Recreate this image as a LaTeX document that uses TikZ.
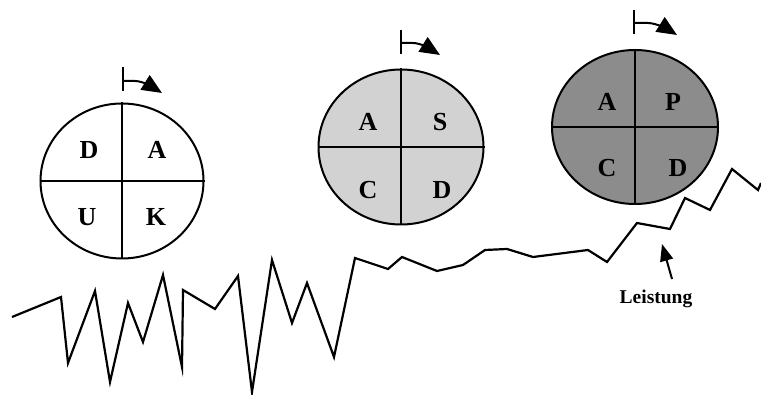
\documentclass[tikz,border=0pt]{standalone}
\usepackage{fontspec}
\setmainfont{Liberation Serif}
\usetikzlibrary{arrows.meta,shapes.geometric}
\tikzset{
  pdca/.style={ellipse, draw, line width=2pt, inner sep=0pt},
  divider/.style={line width=1.4pt},
  letter/.style={font=\bfseries\fontsize{26}{26}\selectfont, inner sep=0pt},
  markbar/.style={line width=2.4pt},
  markarrow/.style={line width=2pt, -{Triangle[length=20pt,width=17pt]}},
  zigzag/.style={line width=2.2pt, line join=miter},
  pointer/.style={line width=2pt, -{Triangle[length=17pt,width=13pt]}},
  labeltext/.style={font=\bfseries\fontsize{19.5}{19.5}\selectfont, inner sep=0pt}
}
\begin{document}
\begin{tikzpicture}[x=1pt,y=-1pt]
\useasboundingbox (0,0) rectangle (761,395);
% circle 1
\node[pdca, fill=white, minimum width=163pt, minimum height=155pt] (c1) at (122,181) {};
\draw[divider] (c1.north) -- (c1.south);
\draw[divider] (c1.west) -- (c1.east);
\node[letter] (c1d) at (89,150) {D};
\node[letter] (c1a) at (157,150) {A};
\node[letter] (c1u) at (87,217) {U};
\node[letter] (c1k) at (156,217) {K};
% circle 2
\node[pdca, fill=gray!35, minimum width=165pt, minimum height=155pt] (c2) at (401,147) {};
\draw[divider] (c2.north) -- (c2.south);
\draw[divider] (c2.west) -- (c2.east);
\node[letter] (c2a) at (368,122) {A};
\node[letter] (c2s) at (440,122) {S};
\node[letter] (c2c) at (368,190) {C};
\node[letter] (c2d) at (442,190) {D};
% circle 3
\node[pdca, fill=black!45, minimum width=166pt, minimum height=154pt] (c3) at (635,127) {};
\draw[divider] (c3.north) -- (c3.south);
\draw[divider] (c3.west) -- (c3.east);
\node[letter] (c3a) at (607,102) {A};
\node[letter] (c3p) at (673,102) {P};
\node[letter] (c3c) at (607,168) {C};
\node[letter] (c3d) at (678,168) {D};
% start marks
\coordinate (m1t) at (123,67); \coordinate (m1b) at (123,91);
\coordinate (m1s) at (123,81); \coordinate (m1e) at (162,93);
\draw[markbar] (m1t) -- (m1b);
\draw[markarrow] (m1s) -- ++(12,0) .. controls +(8,0) and +(-8,-5) .. (m1e);
\coordinate (m2t) at (401,30); \coordinate (m2b) at (401,54);
\coordinate (m2s) at (401,43); \coordinate (m2e) at (440,55);
\draw[markbar] (m2t) -- (m2b);
\draw[markarrow] (m2s) -- ++(12,0) .. controls +(8,0) and +(-8,-5) .. (m2e);
\coordinate (m3t) at (634,10); \coordinate (m3b) at (634,34);
\coordinate (m3s) at (634,23); \coordinate (m3e) at (677,35);
\draw[markbar] (m3t) -- (m3b);
\draw[markarrow] (m3s) -- ++(14,0) .. controls +(8,0) and +(-8,-5) .. (m3e);
% performance line
\draw[zigzag] (12,317) -- (61,297) -- (68,363) -- (95,291) -- (110,382) -- (128,303)
  -- (143,342) -- (163,275) -- (182,367) -- (183,290) -- (215,309) -- (238,276)
  -- (252,392) -- (272,260) -- (292,323) -- (307,283) -- (334,357) -- (355,258)
  -- (388,269) -- (402,257) -- (437,271) -- (463,265) -- (485,250) -- (507,249)
  -- (533,257) -- (588,250) -- (607,262) -- (637,223) -- (670,229) -- (685,198)
  -- (710,210) -- (732,169) -- (758,190) -- (761,183);
% label
\node[labeltext] (lab) at (656,299) {Leistung};
\coordinate (ptail) at (672,279);
\coordinate (phead) at (662,244);
\draw[pointer] (ptail) -- (phead);
\end{tikzpicture}
\end{document}
